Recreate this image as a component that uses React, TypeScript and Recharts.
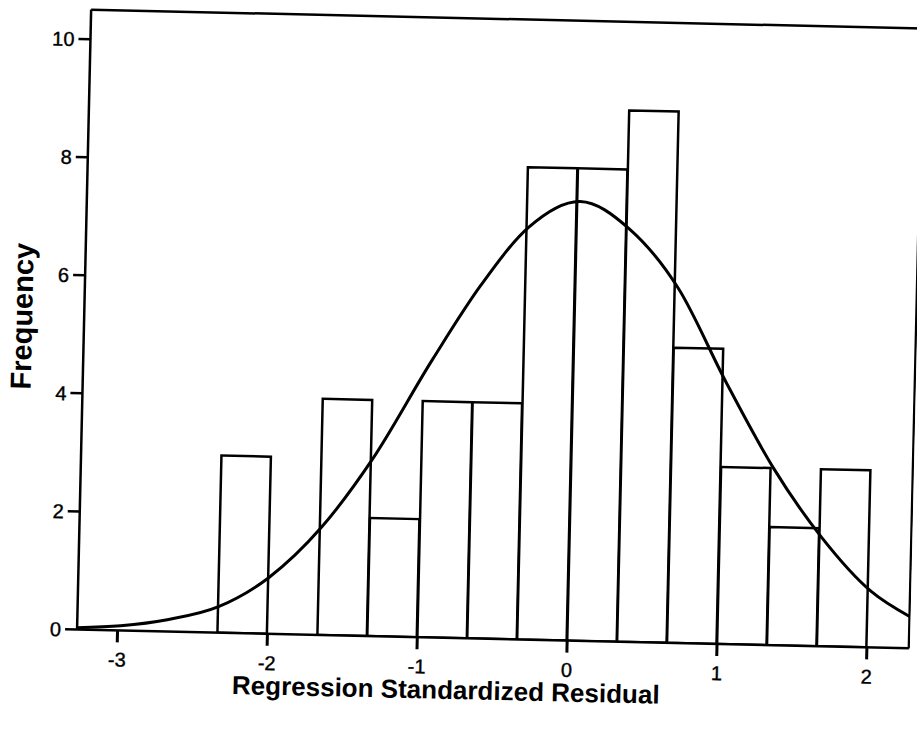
import { ComposedChart, Bar, Line, XAxis, YAxis, ReferenceLine } from "recharts";

// histogram bins (width 1/3), centre of each bin
const binCenters = [-2.167, -1.833, -1.5, -1.167, -0.833, -0.5, -0.167, 0.167, 0.5, 0.833, 1.167, 1.5, 1.833];
const frequency = [3, 0, 4, 2, 4, 4, 8, 8, 9, 5, 3, 2, 3];

// normal curve
const curveX = [-3.27, -2.98, -2.67, -2.33, -2.0, -1.66, -1.33, -0.94, -0.63, -0.32, 0.02, 0.35, 0.69, 1.02, 1.35, 1.68, 2.02, 2.28];
const curveY = [0.03, 0.08, 0.2, 0.44, 0.95, 1.81, 2.98, 4.71, 5.98, 6.98, 7.44, 7.0, 6.0, 4.44, 3.0, 1.85, 0.95, 0.54];

const xTicks = [-3, -2, -1, 0, 1, 2];
const yTicks = [0, 2, 4, 6, 8, 10];

const X_MIN = -3.27;
const X_MAX = 2.28;
const Y_MAX = 10.5;
const BIN_WIDTH = 1 / 3;
const PLOT_W = 832;

const bins = binCenters.map((x, i) => ({ x, count: frequency[i] }));
const curve = curveX.map((x, i) => ({ x, density: curveY[i] }));

const FONT = "'Liberation Sans Narrow', 'Liberation Sans', Arial, sans-serif";
const TITLE_FONT = "'Liberation Sans', Arial, sans-serif";

function XTick(props: any) {
  const { x, y, payload } = props;
  return (
    <text x={x} y={y} dy="0.71em" textAnchor="middle" fontFamily={FONT} fontSize={20} fill="#000" stroke="#000" strokeWidth={0.4}>
      {payload.value}
    </text>
  );
}

function YTick(props: any) {
  const { x, y, payload } = props;
  return (
    <text x={x} y={y} dy="0.36em" textAnchor="end" fontFamily={FONT} fontSize={20} fill="#000" stroke="#000" strokeWidth={0.4}>
      {payload.value}
    </text>
  );
}

function XTitle(props: any) {
  const { x, y } = props.viewBox;
  return (
    <text x={x + 370} y={y + 61} textAnchor="middle" fontFamily={TITLE_FONT} fontSize={26} fontWeight="bold" fill="#000">
      Regression Standardized Residual
    </text>
  );
}

function YTitle(props: any) {
  const { x, y } = props.viewBox;
  const cx = x + 32;
  const cy = y + 308;
  return (
    <text x={cx} y={cy} transform={`rotate(-90 ${cx} ${cy})`} textAnchor="middle" fontFamily={TITLE_FONT} fontSize={29} fontWeight="bold" fill="#000">
      Frequency
    </text>
  );
}

export default function App() {
  // slightly under the bin width in px so recharts keeps it as given
  const barSize = (PLOT_W * BIN_WIDTH) / (X_MAX - X_MIN) - 0.5;
  return (
    <div
      style={{
        position: "absolute",
        left: 0,
        top: 0,
        width: 917,
        height: 740,
        background: "#fff",
        transform: "rotate(1.3deg)",
        transformOrigin: "500px 329px",
      }}
    >
      <ComposedChart width={917} height={740} data={bins} margin={{ top: 19, right: 1, bottom: 41, left: 0 }} barGap={0} barCategoryGap={0}>
        <XAxis
          dataKey="x"
          type="number"
          domain={[X_MIN, X_MAX]}
          ticks={xTicks}
          allowDataOverflow
          height={60}
          tickSize={12}
          tickMargin={10}
          tick={<XTick />}
          axisLine={{ stroke: "#000", strokeWidth: 2.5 }}
          tickLine={{ stroke: "#000", strokeWidth: 3 }}
          label={<XTitle />}
        />
        <XAxis xAxisId="curve" dataKey="x" type="number" domain={[X_MIN, X_MAX]} allowDataOverflow hide />
        <YAxis
          type="number"
          domain={[0, Y_MAX]}
          ticks={yTicks}
          allowDataOverflow
          width={84}
          tickSize={12}
          tickMargin={4}
          tick={<YTick />}
          axisLine={{ stroke: "#000", strokeWidth: 2.5 }}
          tickLine={{ stroke: "#000", strokeWidth: 2.5 }}
          label={<YTitle />}
        />
        <ReferenceLine y={Y_MAX} stroke="#000" strokeWidth={2.5} />
        <ReferenceLine x={X_MAX} stroke="#000" strokeWidth={2.5} />
        <Bar dataKey="count" barSize={barSize} fill="#fff" stroke="#000" strokeWidth={2.5} isAnimationActive={false} />
        <Line
          data={curve}
          xAxisId="curve"
          dataKey="density"
          type="monotone"
          stroke="#000"
          strokeWidth={3}
          dot={false}
          activeDot={false}
          isAnimationActive={false}
        />
      </ComposedChart>
    </div>
  );
}
